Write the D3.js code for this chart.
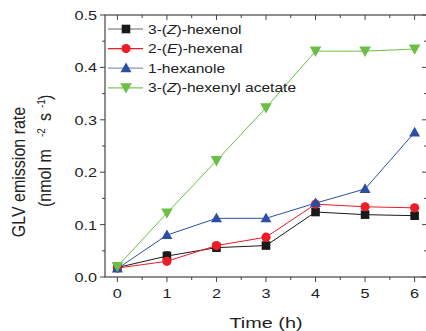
<!DOCTYPE html>
<html>
<head>
<meta charset="utf-8">
<script src="https://cdn.jsdelivr.net/npm/d3@7"></script>
<style>
  body { margin: 0; background: #fff; }
  svg { font-family: "Liberation Sans", Arial, sans-serif; }
</style>
</head>
<body>
<svg id="chart" width="426" height="331"></svg>
<script>
// data
const hours = [0, 1, 2, 3, 4, 5, 6];
const hexenol = [0.018, 0.040, 0.056, 0.060, 0.124, 0.119, 0.117];
const hexenal = [0.017, 0.030, 0.060, 0.076, 0.139, 0.134, 0.132];
const hexanole = [0.016, 0.080, 0.112, 0.112, 0.141, 0.168, 0.276];
const hexenylAcetate = [0.020, 0.122, 0.222, 0.323, 0.431, 0.431, 0.435];
const hexenolErr = [0.003, 0.008, 0.003, 0.003, 0.003, 0.003, 0.003];
const yTicks = [0.0, 0.1, 0.2, 0.3, 0.4, 0.5];

const series = [
  { pre: "3-(", it: "Z", post: ")-hexenol", values: hexenol, err: hexenolErr, color: "#1a1a1a", legendLine: "#666", shape: "square" },
  { pre: "2-(", it: "E", post: ")-hexenal", values: hexenal, color: "#ee1c25", legendLine: "#ee1c25", shape: "circle" },
  { pre: "1-hexanole", it: "", post: "", values: hexanole, color: "#2b4fa3", legendLine: "#8394c9", shape: "up" },
  { pre: "3-(", it: "Z", post: ")-hexenyl acetate", values: hexenylAcetate, color: "#6cbf46", legendLine: "#7cc75a", shape: "down" }
];

(function() {
  const svg = d3.select("#chart");
  const pLeft = 105, pRight = 427, pTop = 15, pBottom = 277;
  const sx = 1.25; // the original's text is drawn wide

  const x = d3.scaleLinear().domain([-0.25, 6.25]).range([pLeft, pRight]);
  const y = d3.scaleLinear().domain([0, 0.5]).range([pBottom, pTop]);

  const axisColor = "#444";
  const textColor = "#222";

  // frame
  svg.append("rect")
    .attr("x", pLeft).attr("y", pTop)
    .attr("width", pRight - pLeft).attr("height", pBottom - pTop)
    .attr("fill", "none").attr("stroke", axisColor).attr("stroke-width", 1.2);

  // ticks
  const xMajor = hours;
  const xMinor = d3.range(0.5, 6.01, 1);
  const yMinor = d3.range(0.05, 0.5, 0.1);
  const ticks = svg.append("g").attr("stroke", axisColor).attr("stroke-width", 1);
  xMajor.forEach(v => {
    ticks.append("line").attr("x1", x(v)).attr("x2", x(v)).attr("y1", pBottom).attr("y2", pBottom + 5);
    ticks.append("line").attr("x1", x(v)).attr("x2", x(v)).attr("y1", pTop).attr("y2", pTop + 5);
  });
  xMinor.forEach(v => {
    ticks.append("line").attr("x1", x(v)).attr("x2", x(v)).attr("y1", pBottom).attr("y2", pBottom + 3);
    ticks.append("line").attr("x1", x(v)).attr("x2", x(v)).attr("y1", pTop).attr("y2", pTop + 3);
  });
  yTicks.forEach(v => {
    ticks.append("line").attr("x1", pLeft - 5).attr("x2", pLeft).attr("y1", y(v)).attr("y2", y(v));
    ticks.append("line").attr("x1", pRight - 5).attr("x2", pRight).attr("y1", y(v)).attr("y2", y(v));
  });
  yMinor.forEach(v => {
    ticks.append("line").attr("x1", pLeft - 3).attr("x2", pLeft).attr("y1", y(v)).attr("y2", y(v));
    ticks.append("line").attr("x1", pRight - 3).attr("x2", pRight).attr("y1", y(v)).attr("y2", y(v));
  });

  // tick labels
  svg.append("g").selectAll("text").data(yTicks).join("text")
    .attr("transform", d => `translate(${pLeft - 8},${y(d) + 5}) scale(${sx},1)`)
    .attr("text-anchor", "end").attr("font-size", 13).attr("fill", textColor)
    .text(d => d.toFixed(1));
  svg.append("g").selectAll("text").data(xMajor).join("text")
    .attr("transform", d => `translate(${x(d)},${pBottom + 21}) scale(${sx},1)`)
    .attr("text-anchor", "middle").attr("font-size", 13).attr("fill", textColor)
    .text(d => d);

  // axis titles
  svg.append("text")
    .attr("transform", `translate(${x(3)},328) scale(1.28,1)`)
    .attr("text-anchor", "middle").attr("font-size", 15.5).attr("fill", textColor)
    .text("Time (h)");

  svg.append("text")
    .attr("transform", `translate(25,172) scale(1.15,1) rotate(-90)`)
    .attr("text-anchor", "middle").attr("font-size", 16).attr("fill", textColor)
    .text("GLV emission rate");
  const t2 = svg.append("text")
    .attr("transform", `translate(51,0) scale(1.15,1) rotate(-90)`)
    .attr("font-size", 16).attr("fill", textColor);
  t2.append("tspan").attr("x", -207).text("(nmol m");
  t2.append("tspan").attr("x", -137).attr("dy", -5).attr("font-size", 10).text("-2");
  t2.append("tspan").attr("x", -121).attr("dy", 5).text("s");
  t2.append("tspan").attr("x", -108).attr("dy", -5).attr("font-size", 10).text("-1");
  t2.append("tspan").attr("x", -100).attr("dy", 5).text(")");

  // marker helper
  function marker(g, shape, cx, cy, color) {
    if (shape === "square") {
      g.append("rect").attr("x", cx - 4.3).attr("y", cy - 4.3).attr("width", 8.6).attr("height", 8.6).attr("fill", color);
    } else if (shape === "circle") {
      g.append("circle").attr("cx", cx).attr("cy", cy).attr("r", 4.6).attr("fill", color);
    } else if (shape === "up") {
      g.append("path").attr("d", `M${cx},${cy - 5.6}L${cx + 5.5},${cy + 4}L${cx - 5.5},${cy + 4}Z`).attr("fill", color);
    } else {
      g.append("path").attr("d", `M${cx},${cy + 5.8}L${cx + 5.8},${cy - 4.6}L${cx - 5.8},${cy - 4.6}Z`).attr("fill", color);
    }
  }

  const line = d3.line().x((d, i) => x(hours[i])).y(d => y(d));

  series.forEach(s => {
    const g = svg.append("g");
    g.append("path").datum(s.values).attr("d", line)
      .attr("fill", "none").attr("stroke", s.color).attr("stroke-width", 1);
    if (s.err) {
      s.values.forEach((v, i) => {
        const cx = x(hours[i]);
        g.append("line").attr("x1", cx).attr("x2", cx).attr("y1", y(v)).attr("y2", y(v + s.err[i]))
          .attr("stroke", s.color).attr("stroke-width", 1);
        g.append("line").attr("x1", cx - 3).attr("x2", cx + 3).attr("y1", y(v + s.err[i])).attr("y2", y(v + s.err[i]))
          .attr("stroke", s.color).attr("stroke-width", 1);
      });
    }
    s.values.forEach((v, i) => marker(g, s.shape, x(hours[i]), y(v), s.color));
  });

  // legend
  const legend = svg.append("g");
  series.forEach((s, i) => {
    const ly = 29 + i * 19.6;
    legend.append("line").attr("x1", 108).attr("x2", 143).attr("y1", ly).attr("y2", ly)
      .attr("stroke", s.legendLine).attr("stroke-width", 1.2);
    marker(legend, s.shape, 126, ly, s.color);
    const t = legend.append("text")
      .attr("transform", `translate(148,${ly + 4.5}) scale(1.2,1)`)
      .attr("font-size", 13).attr("fill", textColor);
    t.append("tspan").text(s.pre);
    if (s.it) {
      t.append("tspan").attr("font-style", "italic").text(s.it);
      t.append("tspan").text(s.post);
    }
  });
})();
</script>
</body>
</html>
